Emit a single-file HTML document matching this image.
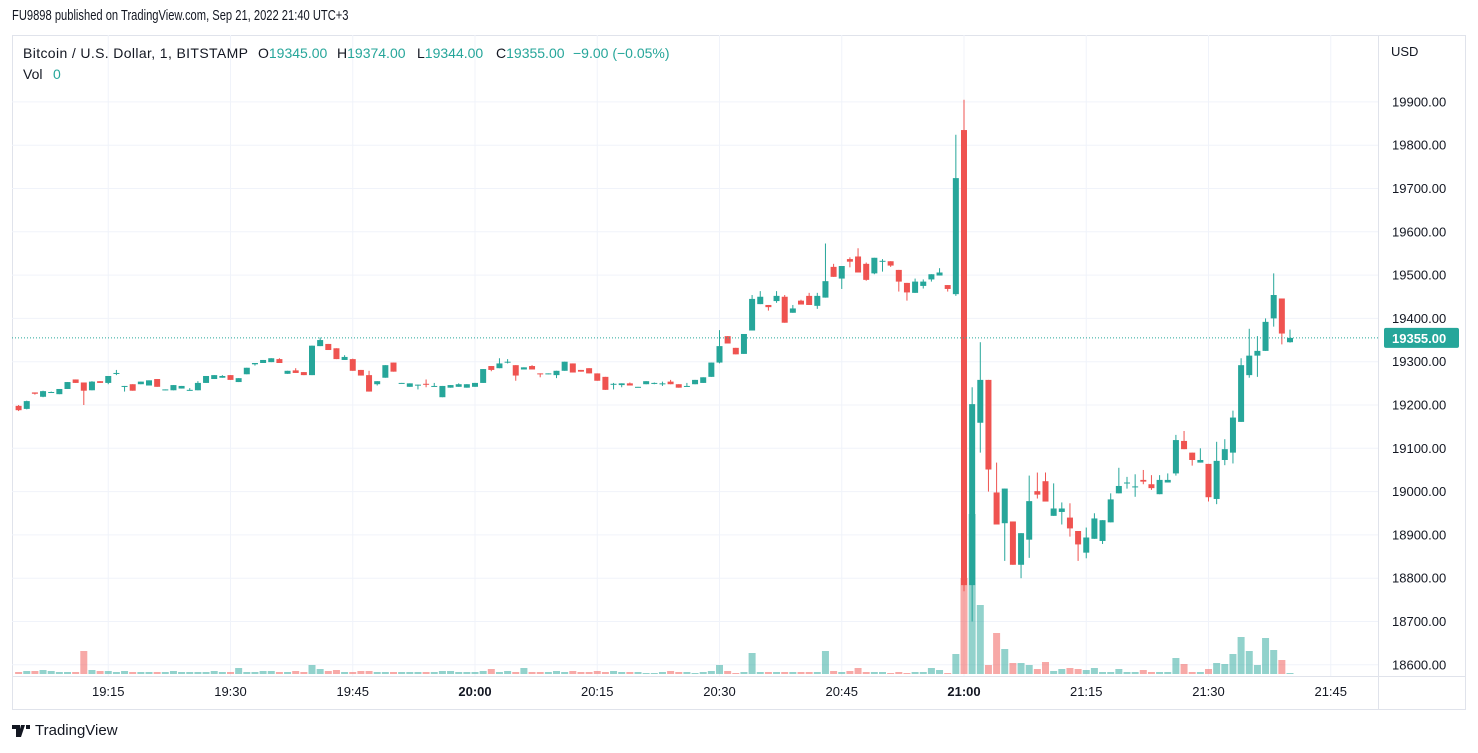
<!DOCTYPE html>
<html><head><meta charset="utf-8"><style>
body{margin:0;width:1478px;height:753px;background:#fff;overflow:hidden;font-family:"Liberation Sans",sans-serif;color:#131722}
#hdr{position:absolute;left:12px;top:8px;font-size:14.5px;transform:scaleX(0.77);transform-origin:0 0;white-space:nowrap}
#ftr{position:absolute;left:12px;top:722px;font-size:15px;display:flex;align-items:center;gap:5px}
svg{position:absolute;left:0;top:0}
</style></head><body>
<div id="hdr">FU9898 published on TradingView.com, Sep 21, 2022 21:40 UTC+3</div>
<svg id="chart" width="1478" height="753"></svg>
<div id="ftr"><svg width="18" height="12" style="position:static"><path d="M0 0h8v12h-4V4H0z M9 0h4l-4 12H6z M14 0h4v4h-4z" fill="#131722"/></svg><span>TradingView</span></div>
<script>
const opens=[19198,19191,19229,19219,19229,19225,19237,19259,19252,19234,19255,19251,19272,19243,19248,19248,19245,19260,19235,19234,19238,19234,19234,19251,19260,19263,19269,19253,19271,19294,19297,19299,19306,19272,19280,19276,19269,19336,19341,19331,19304,19306,19281,19269,19248,19263,19298,19250,19242,19246,19249,19243,19218,19240,19242,19240,19242,19251,19290,19285,19299,19292,19282,19290,19273,19272,19269,19279,19296,19281,19285,19273,19265,19248,19246,19250,19241,19248,19249,19249,19254,19248,19243,19248,19251,19265,19298,19359,19332,19318,19372,19433,19431,19440,19450,19413,19441,19452,19429,19448,19519,19492,19537,19543,19526,19504,19532,19532,19512,19482,19459,19475,19490,19499,19477,19456,19835,18784,19159,19258,18998,18927,18931,18831,18889,19001,19024,18944,18953,18940,18909,18859,18891,18886,18929,18996,19020,19011,19027,19017,18994,19021,19042,19117,19090,19067,19064,18983,19073,19090,19161,19269,19314,19325,19400,19446,19345];
const highs=[19200,19210,19229,19233,19231,19237,19253,19259,19252,19255,19255,19267,19281,19244,19248,19254,19257,19260,19236,19246,19244,19239,19255,19267,19269,19269,19269,19262,19286,19297,19304,19308,19308,19279,19285,19276,19337,19356,19341,19331,19315,19307,19281,19279,19255,19292,19298,19251,19250,19247,19259,19251,19244,19246,19250,19248,19251,19283,19290,19308,19306,19292,19287,19292,19273,19273,19279,19300,19296,19281,19285,19273,19265,19251,19250,19252,19242,19255,19252,19254,19258,19248,19251,19258,19264,19298,19373,19359,19332,19364,19454,19463,19431,19463,19454,19431,19443,19459,19459,19573,19526,19521,19541,19562,19529,19540,19537,19532,19512,19482,19492,19490,19502,19516,19477,19824,19905,19241,19345,19258,19067,19007,18931,18904,19037,19044,19044,19019,18975,18973,18909,18917,18950,18934,18996,19055,19034,19040,19050,19038,19038,19042,19131,19140,19090,19100,19064,19115,19121,19187,19308,19376,19359,19400,19504,19446,19374];
const lows=[19186,19190,19224,19218,19229,19225,19237,19251,19200,19234,19251,19248,19269,19231,19233,19248,19245,19242,19234,19234,19238,19233,19234,19251,19260,19263,19258,19253,19271,19291,19297,19299,19297,19272,19274,19269,19269,19336,19327,19306,19304,19279,19268,19231,19245,19263,19277,19250,19242,19236,19241,19243,19218,19240,19242,19240,19242,19251,19278,19285,19296,19256,19282,19282,19264,19271,19262,19279,19275,19277,19273,19256,19235,19236,19241,19245,19241,19248,19248,19244,19248,19240,19243,19248,19251,19265,19296,19342,19317,19318,19372,19433,19418,19436,19390,19413,19432,19431,19422,19448,19496,19468,19518,19506,19487,19502,19508,19519,19462,19441,19459,19469,19485,19499,19462,19452,18770,18700,19090,19000,18924,18840,18831,18800,18847,18984,18977,18944,18924,18896,18840,18846,18891,18879,18929,18996,19007,18988,19017,19004,18994,19021,19037,19098,19060,19067,18977,18971,19061,19065,19161,19263,19265,19325,19381,19340,19344];
const closes=[19188,19209,19226,19232,19230,19237,19253,19251,19233,19254,19251,19267,19274,19244,19233,19254,19257,19242,19236,19246,19244,19235,19251,19267,19269,19267,19258,19262,19286,19297,19304,19308,19297,19279,19274,19269,19337,19350,19327,19306,19311,19279,19268,19231,19255,19292,19277,19251,19250,19247,19248,19244,19244,19246,19248,19248,19251,19283,19281,19296,19300,19268,19287,19282,19272,19273,19279,19300,19275,19277,19273,19256,19235,19249,19250,19245,19242,19255,19251,19250,19248,19240,19244,19258,19264,19298,19336,19342,19317,19364,19445,19450,19426,19452,19390,19423,19432,19431,19452,19486,19496,19521,19531,19506,19489,19540,19533,19522,19485,19460,19485,19485,19502,19506,19468,19724,18784,19202,19258,19051,18924,19007,18831,18904,18978,18993,18977,18961,18961,18915,18878,18894,18938,18934,18982,19013,19021,19012,19023,19008,19027,19027,19119,19098,19073,19073,18987,19071,19098,19171,19292,19314,19325,19392,19454,19365,19355];
const volumes=[2,3,3,4,3,2,2,2,23,4,3,3,2,3,2,2,2,2,2,3,2,2,2,2,3,2,2,6,2,2,3,3,2,2,3,2,9,5,3,4,2,2,3,3,2,2,2,2,2,2,2,2,3,3,2,2,2,3,5,2,3,2,6,2,2,2,3,2,3,2,2,3,2,3,2,2,2,1,1,2,3,2,2,1,2,3,9,3,1,2,21,2,2,2,2,2,2,2,2,23,3,2,3,6,2,2,2,1,2,1,2,2,6,4,1,20,96,160,69,9,41,25,11,11,9,5,12,3,5,6,5,4,6,2,2,5,2,2,4,2,2,2,16,10,2,2,5,11,10,20,37,23,9,36,24,14,1];
const priceTicks=[19900,19800,19700,19600,19500,19400,19300,19200,19100,19000,18900,18800,18700,18600];
const timeLabels=["19:15","19:30","19:45","20:00","20:15","20:30","20:45","21:00","21:15","21:30","21:45"];
const timeMinutes=[0,15,30,45,60,75,90,105,120,135,150];
const lastPrice=19355;
const firstCandleMinute=-11;

const NS="http://www.w3.org/2000/svg";
const svg=document.getElementById('chart');
const L=12,R=1378,T=35,B=676;
const yP=p=>361.7-(p-19300)*0.433;
const xT=t=>964+(t-105)*8.15;
const yV=v=>674-v;
const G='#26a69a',RD='#ef5350';
function mk(tag,a,parent){const e=document.createElementNS(NS,tag);for(const k in a)e.setAttribute(k,a[k]);(parent||svg).appendChild(e);return e;}

const frame=mk('rect',{x:12.5,y:35.5,width:1453,height:674,fill:'none',stroke:'#e0e3eb'});


const grid=mk('g',{});


priceTicks.forEach(p=>{const l=mk('line',{x1:L,x2:R,y1:yP(p),y2:yP(p),stroke:'#f0f3fa'},grid);

});
timeMinutes.forEach(t=>{const l=mk('line',{x1:xT(t),x2:xT(t),y1:T,y2:B,stroke:'#f0f3fa'},grid);

});

const defs=mk('defs',{});const cp=mk('clipPath',{id:'cp'},defs);mk('rect',{x:L,y:T,width:R-L,height:B-T},cp);
const vg=mk('g',{'clip-path':'url(#cp)'});


volumes.forEach((v,i)=>{const up=closes[i]>=opens[i];const x=xT(firstCandleMinute+i);
const r=mk('rect',{x:x-3.5,y:yV(v),width:7,height:674-yV(v),fill:up?G:RD,'fill-opacity':0.5},vg);

});

const cg=mk('g',{'clip-path':'url(#cp)'});


opens.forEach((o,i)=>{const c=closes[i];const up=c>=o;const col=up?G:RD;const x=xT(firstCandleMinute+i);
const w=mk('line',{x1:x,x2:x,y1:yP(highs[i]),y2:yP(lows[i]),stroke:col,'stroke-width':1},cg);


const top=yP(Math.max(o,c)),h=Math.max(1,yP(Math.min(o,c))-top);
const b=mk('rect',{x:x-3,y:top,width:6,height:h,fill:col},cg);

});

const pl=mk('line',{x1:L,x2:R,y1:yP(lastPrice),y2:yP(lastPrice),stroke:G,'stroke-dasharray':'1 2'});



mk('line',{x1:R+.5,x2:R+.5,y1:T,y2:709,stroke:'#e0e3eb'});
mk('line',{x1:L,x2:1465,y1:B+.5,y2:B+.5,stroke:'#e0e3eb'});

const usd=mk('text',{x:1391,y:56,'font-size':13,fill:'#131722'});usd.textContent='USD';


priceTicks.forEach(p=>{const t=mk('text',{x:1392,y:yP(p)+4.5,'font-size':13,fill:'#131722'});t.textContent=p.toFixed(2);

});
const tagY=yP(lastPrice);
const tag=mk('rect',{x:1384,y:tagY-10,width:75,height:20,fill:G,rx:2});


const tt=mk('text',{x:1392,y:tagY+5,'font-size':13,fill:'#fff','font-weight':'bold'});tt.textContent=lastPrice.toFixed(2);


timeLabels.forEach((s,i)=>{const bold=s==='20:00'||s==='21:00';const t=mk('text',{x:xT(timeMinutes[i]),y:696,'font-size':13,'text-anchor':'middle',fill:'#131722','font-weight':bold?'bold':'normal'});t.textContent=s;

});

const lg=mk('text',{x:23,y:58,'font-size':14,fill:'#131722'});


lg.innerHTML='<tspan textLength="225">Bitcoin / U.S. Dollar, 1, BITSTAMP</tspan><tspan x="258">O</tspan><tspan fill="#26a69a">19345.00</tspan><tspan x="337">H</tspan><tspan fill="#26a69a">19374.00</tspan><tspan x="417">L</tspan><tspan fill="#26a69a">19344.00</tspan><tspan x="496">C</tspan><tspan fill="#26a69a">19355.00</tspan><tspan x="573" fill="#26a69a">−9.00 (−0.05%)</tspan>';
const vl=mk('text',{x:23,y:79,'font-size':14,fill:'#131722'});


vl.innerHTML='Vol<tspan x="53" fill="#26a69a">0</tspan>';
</script>
</body></html>
